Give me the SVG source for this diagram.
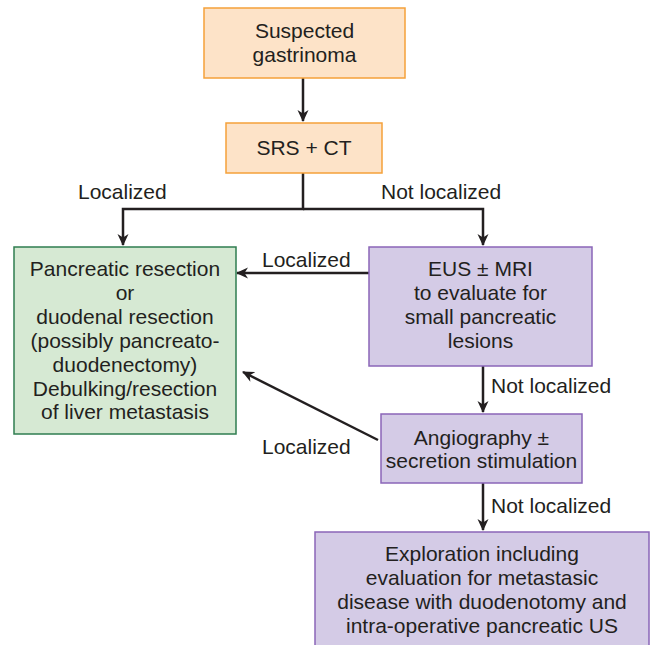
<svg xmlns="http://www.w3.org/2000/svg" width="652" height="645" viewBox="0 0 652 645">
<defs>
<marker id="ah" markerWidth="12" markerHeight="12" refX="11" refY="6" orient="auto" markerUnits="userSpaceOnUse">
<path d="M0,0.5 L12,6 L0,11.5 L3.5,6 Z" fill="#231f20"/>
</marker>
<style>
text{font-family:"Liberation Sans",Arial,sans-serif;font-size:21px;fill:#231f20;text-anchor:middle;dominant-baseline:central}
.lbl{text-anchor:start}
.org{fill:#fde3c8;stroke:#f5a13a;stroke-width:1.5}
.grn{fill:#d6e9d3;stroke:#2f7d50;stroke-width:1.5}
.pur{fill:#d4cbe6;stroke:#8a66b8;stroke-width:1.5}
.c{fill:none;stroke:#231f20;stroke-width:2.5}
</style>
</defs>
<rect width="652" height="645" fill="#ffffff"/>
<g id="connectors">
<line class="c" x1="303" y1="78" x2="303" y2="121" marker-end="url(#ah)"/>
<polyline class="c" points="303,173 303,209 123,209 123,245" marker-end="url(#ah)"/>
<polyline class="c" points="303,209 483,209 483,245" marker-end="url(#ah)"/>
<line class="c" x1="369" y1="273" x2="237" y2="273" marker-end="url(#ah)"/>
<line class="c" x1="483" y1="366" x2="483" y2="412" marker-end="url(#ah)"/>
<line class="c" x1="378" y1="440" x2="243" y2="372" marker-end="url(#ah)"/>
<line class="c" x1="483" y1="483" x2="483" y2="530" marker-end="url(#ah)"/>
<text class="lbl" x="78" y="191">Localized</text>
<text class="lbl" x="381" y="191">Not localized</text>
<text class="lbl" x="262" y="259">Localized</text>
<text class="lbl" x="491" y="385">Not localized</text>
<text class="lbl" x="262" y="446">Localized</text>
<text class="lbl" x="491" y="505">Not localized</text>
</g>
<g id="suspected">
<rect class="org" x="204" y="8" width="201" height="70"/>
<text x="304.5" y="30">Suspected</text>
<text x="304.5" y="54">gastrinoma</text>
</g>
<g id="srsct">
<rect class="org" x="226" y="123" width="156" height="50"/>
<text x="304" y="147">SRS + CT</text>
</g>
<g id="resection">
<rect class="grn" x="14" y="247" width="222" height="187"/>
<text x="125" y="268">Pancreatic resection</text>
<text x="125" y="292">or</text>
<text x="125" y="316">duodenal resection</text>
<text x="125" y="340">(possibly pancreato-</text>
<text x="125" y="364">duodenectomy)</text>
<text x="125" y="388">Debulking/resection</text>
<text x="125" y="411">of liver metastasis</text>
</g>
<g id="eus">
<rect class="pur" x="369" y="247" width="223" height="119"/>
<text x="480.5" y="268">EUS ± MRI</text>
<text x="480.5" y="292">to evaluate for</text>
<text x="480.5" y="316">small pancreatic</text>
<text x="480.5" y="340">lesions</text>
</g>
<g id="angio">
<rect class="pur" x="381" y="414" width="201" height="69"/>
<text x="481.5" y="437">Angiography ±</text>
<text x="481.5" y="460">secretion stimulation</text>
</g>
<g id="exploration">
<rect class="pur" x="315" y="532" width="334" height="120"/>
<text x="482" y="553">Exploration including</text>
<text x="482" y="577">evaluation for metastasic</text>
<text x="482" y="601">disease with duodenotomy and</text>
<text x="482" y="625">intra-operative pancreatic US</text>
</g>
</svg>
